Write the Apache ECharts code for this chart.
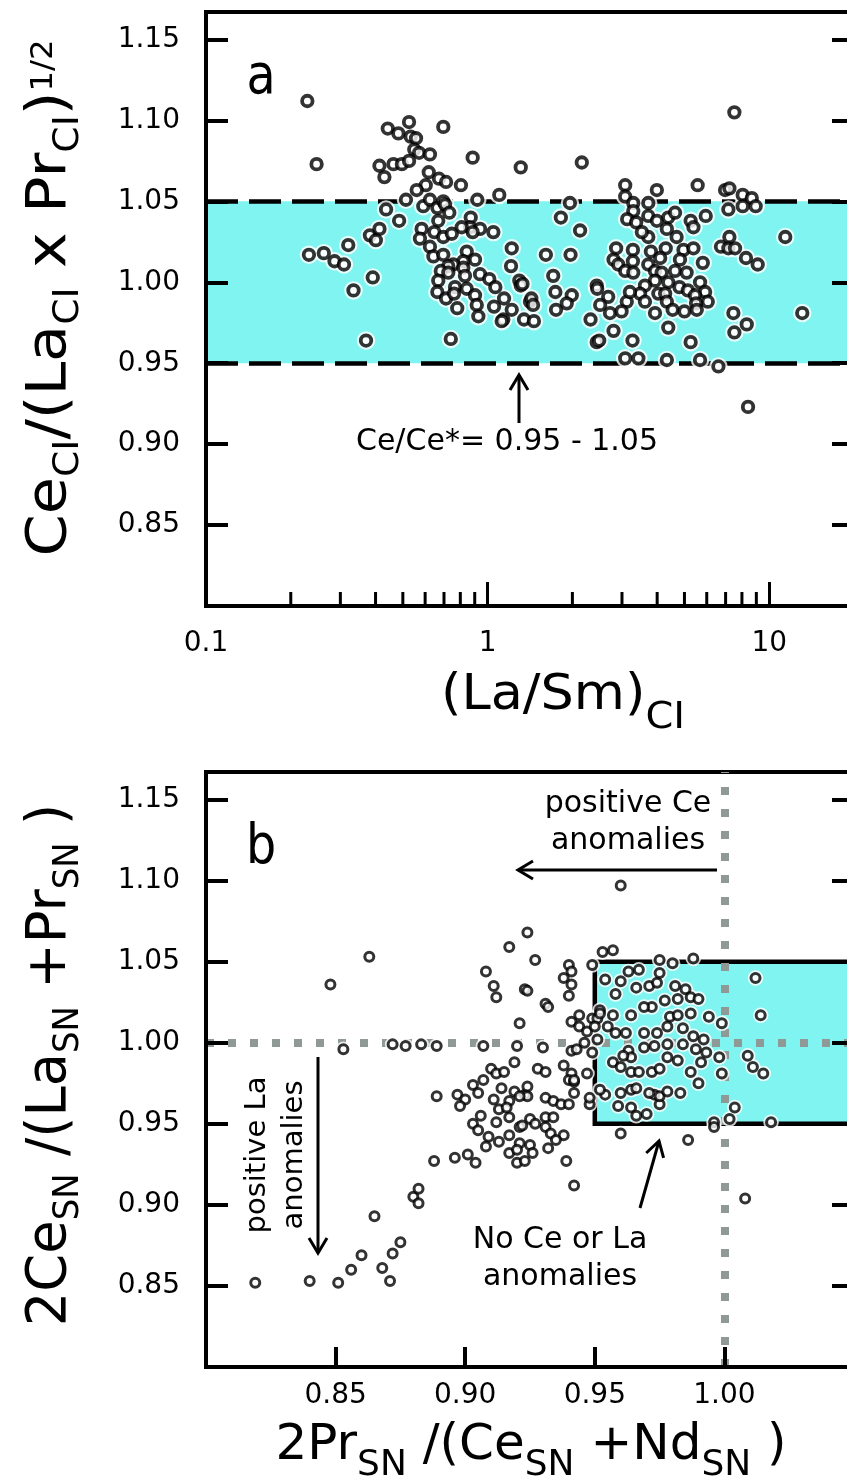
<!DOCTYPE html>
<html><head><meta charset="utf-8">
<script src="https://cdn.jsdelivr.net/npm/echarts@6/dist/echarts.min.js"></script>
<style>html,body{margin:0;padding:0;background:#fff;overflow:hidden}#c{width:847px;height:1481px}</style>
</head><body><div id="c"></div>
<script>
// ---------------- DATA ----------------
// Panel a: (La/Sm)CI  vs  Ce/Ce*
const panelA_LaSm_CeAnom = [
[0.229,1.112],[0.247,1.073],[0.442,1.095],[0.482,1.092],[0.526,1.099],[0.533,1.090],[0.557,1.089],[0.549,1.082],[0.571,1.080],[0.624,1.079],
[0.696,1.096],[0.413,1.072],[0.430,1.065],[0.463,1.073],[0.496,1.073],[0.526,1.075],[0.618,1.068],[0.672,1.064],[0.712,1.062],[0.603,1.060],
[0.560,1.057],[0.804,1.060],[0.885,1.077],[1.311,1.071],[1.100,1.054],[0.919,1.051],[0.513,1.051],[0.436,1.045],[0.485,1.038],[0.591,1.047],
[0.624,1.051],[0.663,1.046],[0.696,1.050],[0.706,1.048],[0.731,1.043],[0.668,1.038],[0.871,1.040],[0.866,1.034],[0.809,1.034],[0.940,1.033],
[0.885,1.031],[1.048,1.031],[0.583,1.033],[0.647,1.031],[0.696,1.028],[0.746,1.030],[0.575,1.027],[0.624,1.022],[0.642,1.016],[0.696,1.017],
[0.843,1.019],[0.902,1.014],[0.820,1.013],[0.755,1.011],[0.725,1.010],[0.820,1.009],[0.682,1.007],[0.725,1.006],[0.831,1.004],[0.940,1.005],
[1.014,1.002],[0.668,1.001],[0.766,0.997],[0.843,0.996],[0.663,0.994],[0.712,0.990],[0.780,0.984],[0.760,0.993],[0.902,0.992],[1.065,0.997],
[1.144,0.990],[1.054,0.985],[0.915,0.986],[0.927,0.979],[1.218,0.983],[1.137,0.977],[1.122,0.976],[1.347,0.977],[1.218,1.021],[1.211,1.010],
[1.296,1.001],[1.311,0.998],[1.414,0.988],[0.232,1.017],[0.262,1.018],[0.286,1.013],[0.309,1.011],[0.320,1.023],[0.334,0.995],[0.391,1.003],
[0.382,1.029],[0.413,1.033],[0.401,1.026],[0.370,0.964],[0.740,0.965],
[7.52,1.105],[2.16,1.074],[3.08,1.060],[3.08,1.053],[3.99,1.057],[5.57,1.060],[6.97,1.057],[7.22,1.058],[8.05,1.054],[8.67,1.052],
[8.05,1.047],[8.95,1.047],[7.16,1.045],[1.96,1.049],[1.82,1.040],[2.13,1.032],[3.29,1.049],[3.72,1.049],[3.29,1.044],[3.13,1.039],
[3.37,1.037],[3.72,1.041],[3.99,1.038],[4.38,1.040],[4.63,1.043],[5.26,1.038],[5.38,1.034],[5.95,1.041],[4.69,1.028],[3.72,1.028],
[4.33,1.033],[3.53,1.031],[2.86,1.021],[3.28,1.020],[3.80,1.019],[4.29,1.021],[4.96,1.020],[5.38,1.021],[2.80,1.014],[2.91,1.011],
[3.28,1.013],[3.72,1.011],[4.10,1.015],[4.82,1.014],[5.81,1.012],[3.08,1.007],[3.29,1.006],[3.93,1.007],[4.15,1.006],[4.63,1.007],
[5.09,1.006],[3.93,1.001],[3.62,0.998],[4.38,1.000],[4.80,0.997],[5.68,1.000],[5.92,0.994],[3.48,0.993],[4.04,0.993],[4.27,0.993],
[5.14,0.995],[5.45,0.992],[6.05,0.988],[5.50,0.987],[3.62,0.988],[4.33,0.988],[3.12,0.988],[3.20,0.994],[2.44,0.998],[2.45,0.996],
[2.68,0.991],[2.51,0.986],[2.72,0.981],[2.99,0.982],[3.93,0.981],[4.54,0.983],[5.00,0.982],[5.53,0.983],[2.32,0.977],[2.80,0.970],
[4.38,0.972],[3.27,0.964],[5.26,0.963],[2.44,0.963],[2.49,0.964],[3.08,0.953],[3.43,0.953],[4.33,0.952],[5.68,0.952],[6.60,0.948],
[1.71,1.004],[1.74,0.994],[1.99,0.992],[1.91,0.987],[1.75,0.983],[1.33,0.999],[1.43,0.990],[1.45,0.986],[1.46,0.976],[1.61,1.017],
[1.97,1.017],[7.22,1.028],[6.74,1.022],[7.16,1.021],[7.56,1.021],[8.27,1.015],[9.10,1.011],[11.4,1.028],[13.1,0.981],[7.46,0.981],
[8.32,0.974],[7.52,0.969],[8.41,0.923]
];

// Panel b: 2Pr/(Ce+Nd)  vs  2Ce/(La+Pr)
const panelB_PrAnom_CeAnom = [
[0.848,1.036],[0.863,1.053],[0.853,0.996],[0.872,0.999],[0.877,0.998],[0.883,0.999],[0.889,0.998],[0.907,0.998],[0.920,0.998],[0.921,1.012],
[0.919,0.988],[0.917,1.059],[0.924,1.068],[0.908,1.044],[0.911,1.035],[0.912,1.028],[0.923,1.033],[0.889,0.967],[0.897,0.968],[0.900,0.965],
[0.903,0.974],[0.905,0.969],[0.907,0.977],[0.910,0.984],[0.912,0.981],[0.915,0.982],[0.911,0.965],[0.914,0.972],[0.917,0.964],[0.919,0.970],
[0.923,0.968],[0.924,1.032],[0.931,1.024],[0.932,1.022],[0.940,1.029],[0.958,1.030],[0.952,1.020],[0.957,1.017],[0.964,1.017],[0.944,1.017],
[0.941,1.013],[0.949,1.015],[0.930,0.997],[0.944,1.010],[0.947,1.007],[0.955,1.010],[0.958,1.006],[0.962,1.006],[0.951,1.002],[0.941,0.995],
[0.943,0.996],[0.949,0.994],[0.963,0.995],[0.964,0.991],[0.957,0.988],[0.960,0.985],[0.938,0.986],[0.941,0.981],[0.940,0.977],[0.942,0.976],
[0.947,0.981],[0.928,0.984],[0.931,0.982],
[0.898,0.961],[0.924,0.973],[0.924,0.967],[0.921,0.967],[0.931,0.966],[0.934,0.964],[0.937,0.962],[0.940,0.962],[0.948,0.962],[0.954,0.968],
[0.952,0.971],[0.959,0.961],[0.964,0.971],[0.964,0.960],[0.960,0.944],[0.906,0.955],[0.903,0.950],[0.905,0.946],[0.913,0.959],[0.912,0.951],
[0.917,0.954],[0.916,0.960],[0.909,0.942],[0.913,0.939],[0.917,0.943],[0.921,0.948],[0.925,0.953],[0.927,0.950],[0.922,0.949],[0.931,0.954],
[0.934,0.954],[0.931,0.948],[0.933,0.944],[0.938,0.943],[0.935,0.940],[0.921,0.938],[0.925,0.937],[0.908,0.936],[0.917,0.932],[0.920,0.934],
[0.926,0.932],[0.920,0.926],[0.923,0.927],[0.932,0.935],[0.939,0.927],[0.896,0.929],[0.901,0.931],[0.904,0.926],[0.888,0.927],[0.942,0.912],
[0.880,0.905],[0.882,0.910],[0.882,0.901],[0.865,0.893],[0.875,0.877],[0.872,0.870],[0.868,0.861],[0.871,0.853],[0.860,0.869],[0.856,0.860],
[0.851,0.852],[0.840,0.853],[0.819,0.852],[0.986,0.940],[1.008,0.904],[1.018,0.951],[0.996,0.951],[0.996,0.948],[1.002,0.953],[1.004,0.960],
[0.983,0.969],[0.975,0.962],[0.970,0.956],[0.966,0.955],[0.973,0.968],[0.960,1.097],[0.927,1.051],[0.953,1.056],[0.957,1.057],[0.940,1.048],
[0.941,1.044],[0.938,1.040],[0.941,1.036],[0.949,1.048],[0.954,1.039],[0.960,1.038],[0.963,1.044],[0.967,1.045],[0.975,1.051],[0.980,1.049],
[0.988,1.052],[1.012,1.040],[1.014,1.017],[0.966,1.034],[0.971,1.035],[0.974,1.037],[0.975,1.043],[0.981,1.035],[0.985,1.033],[0.987,1.028],
[0.990,1.027],[0.982,1.027],[0.977,1.026],[0.972,1.022],[0.969,1.022],[0.979,1.016],[0.982,1.017],[0.987,1.018],[0.994,1.016],[0.999,1.012],
[0.951,1.015],[0.969,1.006],[0.974,1.006],[0.978,1.010],[0.984,1.009],[0.988,1.004],[0.992,1.002],[0.978,0.999],[0.973,0.998],[0.969,0.997],
[0.984,0.999],[0.989,0.996],[0.993,0.994],[0.998,0.991],[1.009,0.992],[1.011,0.985],[1.015,0.981],[0.999,0.981],[0.990,0.975],[0.961,0.992],
[0.964,0.982],[0.967,0.982],[0.972,0.982],[0.975,0.984],[0.978,0.991],[0.982,0.989],[0.991,0.988],[0.987,0.982],[0.966,0.972],[0.971,0.969],
[0.975,0.967],[0.978,0.970],[0.960,0.969],[0.948,0.966],[0.942,0.969],[0.942,0.977],[0.946,1.000],[0.952,1.018],[0.950,1.010]
];

// Axis ranges / ticks / reference values
const yRange = [0.80, 1.167];
const yStep = 0.05;
const xRangeA = [0.1, 20];
const logMinorTicks = [0.2,0.3,0.4,0.5,0.6,0.7,0.8,0.9,2,3,4,5,6,7,8,9];
const xRangeB = [0.80, 1.05];
const xStepB = 0.05;
const ceBandA = [0.95, 1.05];
const noAnomBoxB = {x:[0.95, 1.05], y:[0.95, 1.05]};
const refLinesB = {x:1.00, y:1.00};

// ---------------- STYLE ----------------
const FONT = 'DejaVu Sans';
const CYAN = '#80f4f0';
const GRAY = '#8f9a97';

function yAxisDef(gridIndex, right){
  return {
    type:'value', gridIndex, position: right ? 'right' : 'left',
    min: yRange[0], max: yRange[1], interval: yStep, z: 10,
    axisLine:{show:true, onZero:false, lineStyle:{color:'#000', width:4}},
    axisTick:{show:true, inside:true, length:22, lineStyle:{color:'#000', width:4}},
    axisLabel:{show:!right, fontFamily:FONT, fontSize:28, color:'#000', margin:26,
      showMinLabel:false, showMaxLabel:false, formatter:v=>v.toFixed(2)},
    splitLine:{show:false}
  };
}

function arrow(x1,y1,x2,y2){
  const dx=x2-x1, dy=y2-y1, L=Math.hypot(dx,dy), ux=dx/L, uy=dy/L;
  const hl=15, hw=9;
  const bx=x2-ux*hl, by=y2-uy*hl, px=-uy, py=ux;
  return [
    {type:'line', z:100, silent:true, shape:{x1,y1,x2,y2}, style:{stroke:'#000', lineWidth:3}},
    {type:'polyline', z:100, silent:true, shape:{points:[[bx+px*hw,by+py*hw],[x2,y2],[bx-px*hw,by-py*hw]]},
      style:{stroke:'#000', lineWidth:3, fill:null}}
  ];
}

function rich(F,S,P,p0,p2){
  return {
    m:{fontSize:F, fontFamily:FONT, fill:'#000'},
    s:{fontSize:S, fontFamily:FONT, fill:'#000', padding:[p0,0,0,0]},
    p:{fontSize:P, fontFamily:FONT, fill:'#000', padding:[0,0,p2,0]}
  };
}
function txt(x,y,text,size,extra){
  return Object.assign({type:'text', x, y, z:100, silent:true,
    style:{text, fontSize:size, fontFamily:FONT, fill:'#000', align:'center', verticalAlign:'middle', lineHeight:37}}, extra||{});
}

const chart = echarts.init(document.getElementById('c'), null, {renderer:'canvas'});
const option = {
  animation:false,
  backgroundColor:'#fff',
  textStyle:{fontFamily:FONT},
  grid:[
    {left:206, top:12, width:648, height:594, show:true, borderColor:'#000', borderWidth:4, backgroundColor:'transparent',
     containLabel:false, outerBoundsMode:'none'},
    {left:206, top:772, width:648, height:595, show:true, borderColor:'#000', borderWidth:4, backgroundColor:'transparent',
     containLabel:false, outerBoundsMode:'none'}
  ],
  xAxis:[
    {type:'log', logBase:10, gridIndex:0, min:xRangeA[0], max:xRangeA[1], z:10,
     axisLine:{onZero:false, lineStyle:{color:'#000', width:4}},
     axisTick:{inside:true, length:24, lineStyle:{color:'#000', width:3}},
     axisLabel:{fontFamily:FONT, fontSize:28, color:'#000', margin:24, showMinLabel:true, showMaxLabel:false,
       formatter:v=> v<1 ? (+v).toFixed(1) : String(Math.round(v))},
     splitLine:{show:false}, minorTick:{show:false}},
    {type:'value', gridIndex:1, min:xRangeB[0], max:xRangeB[1], interval:xStepB, z:10,
     axisLine:{onZero:false, lineStyle:{color:'#000', width:4}},
     axisTick:{inside:true, length:20, lineStyle:{color:'#000', width:4}},
     axisLabel:{fontFamily:FONT, fontSize:28, color:'#000', margin:15, showMinLabel:false, showMaxLabel:false,
       formatter:v=>v.toFixed(2)},
     splitLine:{show:false}}
  ],
  yAxis:[ yAxisDef(0,false), yAxisDef(0,true), yAxisDef(1,false), yAxisDef(1,true) ],
  series:[
    // ---- panel a
    {type:'scatter', xAxisIndex:0, yAxisIndex:0, data:panelA_LaSm_CeAnom, symbolSize:18.5, silent:true, z:5,
     itemStyle:{color:'#fff'},
     markArea:{silent:true, z:1, itemStyle:{color:CYAN, borderWidth:0}, data:[[{yAxis:ceBandA[0]},{yAxis:ceBandA[1]}]]},
     markLine:{silent:true, z:2, symbol:'none', label:{show:false}, emphasis:{disabled:true},
       lineStyle:{color:'#000', width:4.5, type:[32,11]}, data:ceBandA.map(v=>({yAxis:v}))}},
    {type:'scatter', xAxisIndex:0, yAxisIndex:0, data:panelA_LaSm_CeAnom, symbolSize:10.5, silent:true, z:6,
     itemStyle:{color:'#fff', borderColor:'#000', borderWidth:3.8}},
    {type:'custom', xAxisIndex:0, yAxisIndex:0, data:logMinorTicks.map(v=>[v, yRange[0]]), silent:true, z:11, clip:false,
     renderItem:(params, api)=>{
       const p = api.coord([api.value(0), api.value(1)]);
       return {type:'line', shape:{x1:p[0], y1:p[1]-2, x2:p[0], y2:p[1]-14}, style:{stroke:'#000', lineWidth:3}};
     }},
    // ---- panel b
    {type:'scatter', xAxisIndex:1, yAxisIndex:2, data:panelB_PrAnom_CeAnom, symbolSize:15.5, silent:true, z:5,
     itemStyle:{color:'#fff'},
     markArea:{silent:true, z:1, itemStyle:{color:CYAN, borderColor:'#000', borderWidth:4.5},
       data:[[{xAxis:noAnomBoxB.x[0], yAxis:noAnomBoxB.y[0]},{xAxis:noAnomBoxB.x[1], yAxis:noAnomBoxB.y[1]}]]},
     markLine:{silent:true, z:3, symbol:'none', label:{show:false}, emphasis:{disabled:true},
       lineStyle:{color:GRAY, width:8, type:[8,14]}, data:[{xAxis:refLinesB.x},{yAxis:refLinesB.y}]}},
    {type:'scatter', xAxisIndex:1, yAxisIndex:2, data:panelB_PrAnom_CeAnom, symbolSize:9, silent:true, z:6,
     itemStyle:{color:'#fff', borderColor:'#000', borderWidth:3}}
  ],
  graphic:[
    txt(261, 78, 'a', 56, {scaleX:0.85}),
    txt(261, 848, 'b', 56, {scaleX:0.85}),
    // axis titles
    {type:'text', x:50, y:298, rotation:Math.PI/2, scaleX:1.08, z:100, silent:true,
     style:{text:'{m|Ce}{s|CI}{m|/(La}{s|CI}{m| x Pr}{s|CI}{m|)}{p|1/2}', rich:rich(56,35,30,38,12),
       fontSize:56, fontFamily:FONT, fill:'#000', align:'center', verticalAlign:'middle'}},
    {type:'text', x:50, y:1065, rotation:Math.PI/2, scaleX:0.97, z:100, silent:true,
     style:{text:'{m|2Ce}{s|SN}{m| /(La}{s|SN}{m| +Pr}{s|SN}{m| )}', rich:rich(56,35,30,38,12),
       fontSize:56, fontFamily:FONT, fill:'#000', align:'center', verticalAlign:'middle'}},
    {type:'text', x:563, y:696, scaleX:1.05, z:100, silent:true,
     style:{text:'{m|(La/Sm)}{s|CI}', rich:rich(50,38,30,44,0),
       fontSize:50, fontFamily:FONT, fill:'#000', align:'center', verticalAlign:'middle'}},
    {type:'text', x:531, y:1446, z:100, silent:true,
     style:{text:'{m|2Pr}{s|SN}{m| /(Ce}{s|SN}{m| +Nd}{s|SN}{m| )}', rich:rich(50,36,30,40,0),
       fontSize:50, fontFamily:FONT, fill:'#000', align:'center', verticalAlign:'middle'}},
    // annotations
    txt(507, 442, 'Ce/Ce*= 0.95 - 1.05', 30),
    txt(628, 823, 'positive Ce\nanomalies', 30),
    txt(560, 1259, 'No Ce or La\nanomalies', 30),
    txt(276, 1155, 'positive La\nanomalies', 29, {rotation:Math.PI/2}),
    ...arrow(519, 423, 519, 375),
    ...arrow(717, 870, 518, 870),
    ...arrow(318, 1057, 318, 1253),
    ...arrow(640, 1208, 659, 1141)
  ]
};
chart.setOption(option);
</script></body></html>
